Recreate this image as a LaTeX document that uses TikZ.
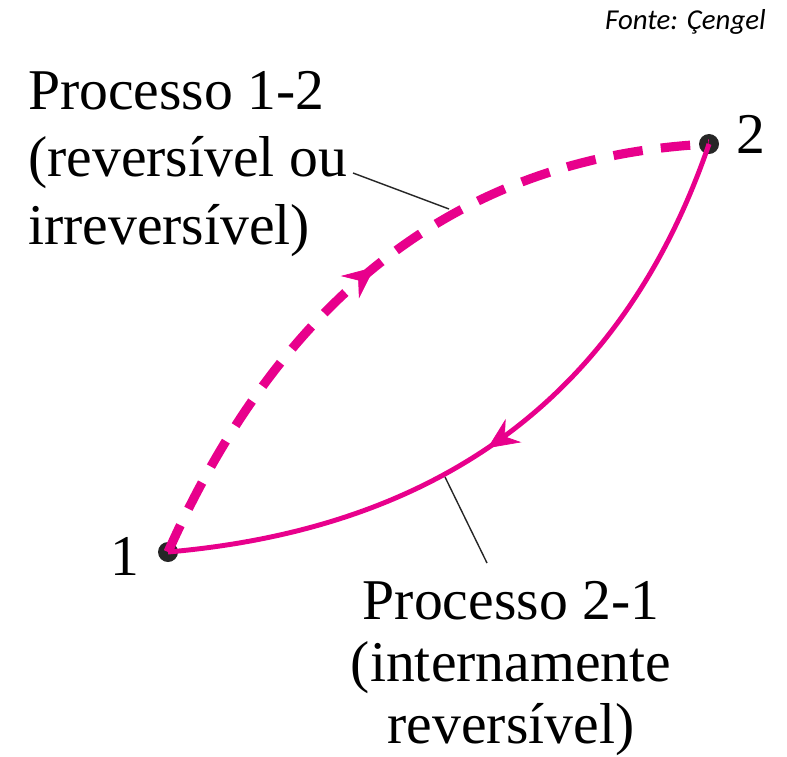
\documentclass[tikz,border=0pt]{standalone}
\usepackage{fontspec}
\setmainfont{Liberation Serif}
\newfontfamily\notefont{Carlito}
\usetikzlibrary{arrows.meta, decorations.markings}
\definecolor{procpink}{RGB}{232,0,140}
\tikzstyle{state} = [circle, fill=black!85, inner sep=0pt, minimum size=0.5cm]
\tikzstyle{proctext} = [inner sep=0pt, font=\fontsize{41}{48}\selectfont]
\tikzstyle{numtext} = [inner sep=0pt, font=\fontsize{41}{48}\selectfont]
\tikzstyle{leader} = [draw=black!85, line width=1pt]
\tikzstyle{dashpath} = [draw=procpink, line width=6.5pt,
dash pattern=on 21pt off 13pt,
postaction={decorate},
decoration={markings, mark=at position 0.495 with {\arrow[procpink, line width=0.5pt]{Stealth[length=0.8cm, width=0.72cm, inset=0.27cm]}}}]
\tikzstyle{solidpath} = [draw=procpink, line width=3.5pt,
postaction={decorate},
decoration={markings, mark=at position 0.53 with {\arrow[procpink, line width=0.5pt]{Stealth[length=0.78cm, width=0.7cm, inset=0.26cm]}}}]

\begin{document}
\begin{tikzpicture}[x=0.025cm, y=-0.025cm]
            \useasboundingbox (0,0) rectangle (787,756);

            \node (src) [anchor=base east, font=\notefont\itshape\fontsize{20.5}{24}\selectfont, inner sep=0pt] at (766,29) {Fonte: Çengel};

            \node (p1) [state] at (168,552) {};
            \node (p2) [state] at (709,144) {};
            \node (n1) [numtext, anchor=base east] at (140,575) {1};
            \node (n2) [numtext, anchor=base west] at (736,153) {2};

            % process 1-2 and 2-1
            \draw [dashpath] (p1.center) .. controls (284,292) and (464,156) .. (p2.center);
            \draw [solidpath] (p2.center) .. controls (624,392) and (444,528) .. (p1.center);

            \node (lab12) [proctext, anchor=north west, align=left] at (28,71) {Processo 1-2\\(reversível ou\\irreversível)};
            \node (lab21) [proctext, anchor=north, align=center, font=\fontsize{41}{44}\selectfont] at (511,581) {Processo 2-1\\(internamente\\reversível)};

            \coordinate (a12) at (353,173);
            \coordinate (b12) at (449,209);
            \coordinate (a21) at (487,563);
            \coordinate (b21) at (445,477);
            \draw [leader] (a12) -- (b12);
            \draw [leader] (a21) -- (b21);
        \end{tikzpicture}
\end{document}
